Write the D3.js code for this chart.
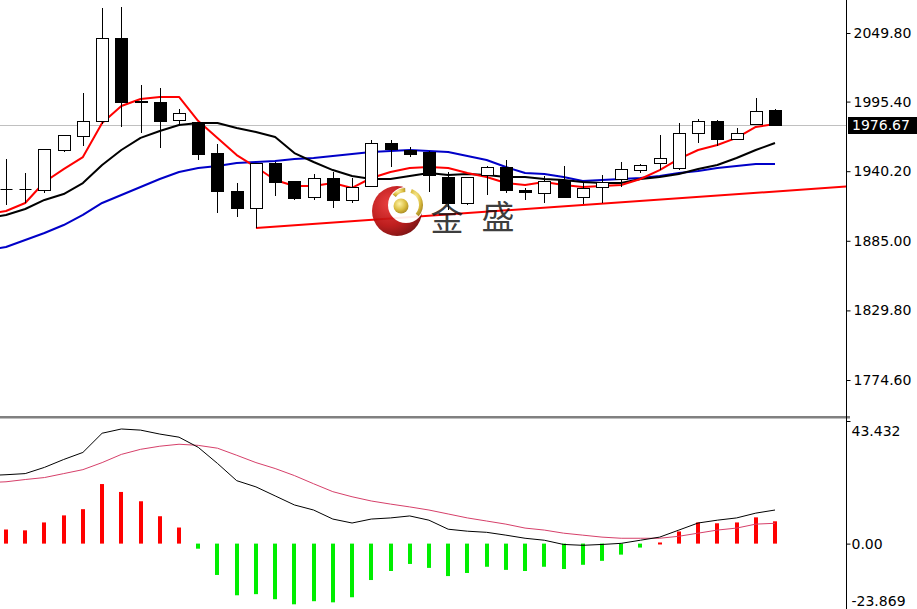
<!DOCTYPE html>
<html>
<head>
<meta charset="utf-8">
<script src="https://cdn.jsdelivr.net/npm/d3@7/dist/d3.min.js"></script>
<style>
  html, body { margin: 0; padding: 0; background: #fff; }
  svg { display: block; }
  text { font-family: "DejaVu Sans", Verdana, sans-serif; }
</style>
</head>
<body>
<svg id="chart" width="917" height="609"></svg>
<script>
// ---------------- DATA ----------------
const opens  = [1926.1,1926.1,1925.3,1957.0,1968.1,1980.0,2045.8,1995.9,1995.1,1980.8,1979.2,1954.6,1924.5,1911.0,1946.7,1932.4,1919.8,1934.8,1917.4,1928.5,1962.6,1957.0,1955.4,1935.6,1915.0,1937.2,1943.5,1925.3,1922.9,1933.2,1919.8,1927.7,1934.0,1941.1,1946.7,1942.7,1970.5,1980.0,1965.8,1977.6,1988.7];
const highs  = [1949.9,1938.8,1957.8,1968.9,2002.2,2069.6,2070.4,2008.6,2006.2,1989.5,1979.6,1961.8,1930.8,1946.7,1947.5,1932.4,1938.0,1939.6,1934.8,1965.0,1965.0,1959.4,1956.2,1939.6,1935.6,1944.3,1949.1,1926.9,1936.4,1944.3,1930.8,1937.2,1947.5,1945.9,1968.9,1978.4,1981.6,1980.8,1974.5,1998.3,1989.5];
const lows   = [1913.4,1915.0,1922.9,1955.4,1960.2,1977.6,1975.3,1970.5,1958.6,1976.0,1949.1,1907.0,1903.9,1895.2,1920.6,1917.4,1917.4,1911.0,1915.0,1927.7,1943.5,1951.4,1923.7,1909.4,1913.4,1921.3,1922.9,1917.4,1915.0,1919.8,1914.2,1915.0,1927.7,1938.8,1941.1,1941.1,1962.6,1960.2,1965.8,1977.6,1976.0];
const closes = [1926.1,1926.1,1957.8,1968.9,1980.0,2045.8,1995.1,1995.1,1980.0,1986.3,1953.8,1924.5,1911.0,1946.7,1931.6,1919.0,1934.8,1917.4,1927.7,1962.6,1957.8,1953.8,1937.2,1915.0,1935.6,1943.5,1925.3,1923.7,1932.4,1919.8,1926.9,1931.6,1941.9,1945.1,1950.7,1970.5,1980.0,1965.8,1970.5,1987.9,1976.67];

// moving averages, first value belongs to the bar just left of the visible window (index -1)
const maRed   = [1906.3,1908.6,1915.0,1931.6,1941.9,1951.4,1978.4,1991.9,1997.5,1999.1,1999.1,1980.0,1966.6,1953.0,1943.5,1933.2,1928.5,1928.5,1930.8,1926.9,1934.8,1939.6,1942.7,1943.5,1942.7,1938.8,1935.6,1930.8,1929.3,1931.6,1929.3,1927.7,1928.5,1929.3,1934.0,1941.1,1949.9,1957.0,1961.0,1966.6,1975.3,1977.6];
const maBlack = [1903.1,1905.5,1910.2,1917.4,1922.1,1930.8,1945.1,1957.0,1966.6,1972.1,1976.8,1978.4,1978.4,1974.5,1971.3,1967.3,1954.6,1947.5,1941.1,1936.4,1934.0,1934.0,1936.4,1938.8,1937.2,1938.0,1937.2,1935.6,1935.6,1934.0,1933.2,1931.6,1930.8,1930.8,1934.0,1935.6,1938.0,1941.9,1945.1,1950.7,1957.0,1962.6];
const maBlue  = [1877.7,1880.1,1885.6,1891.2,1897.5,1905.5,1915.0,1921.3,1927.7,1934.0,1939.6,1942.7,1944.3,1946.7,1947.5,1948.3,1949.9,1950.7,1952.2,1953.8,1955.4,1956.2,1957.0,1956.2,1955.4,1952.2,1949.1,1943.5,1938.8,1938.0,1935.6,1932.4,1933.2,1934.0,1934.8,1936.4,1938.8,1940.4,1942.7,1944.3,1945.9,1945.9];

// trend line: [bar index, price]
const trendLine = [[13, 1895.2], [44, 1928.4]];
const lastPrice = 1976.67;

// MACD panel
const macdHist = [5.0,4.7,7.5,10.0,12.2,21.1,18.3,15.0,9.7,5.7,-1.8,-11.1,-18.3,-17.9,-19.7,-21.5,-20.4,-20.8,-19.0,-12.9,-9.7,-7.2,-8.6,-11.5,-10.4,-8.2,-9.3,-9.7,-8.2,-9.0,-7.5,-6.1,-3.9,-1.4,0.4,4.3,7.5,7.2,7.5,9.3,7.9];
const macdDif  = [24.1,24.4,24.8,27.0,29.8,32.3,39.1,40.6,40.2,38.8,37.7,34.1,28.4,22.3,20.1,16.9,13.7,11.9,8.7,7.3,8.7,9.1,9.8,8.3,5.1,4.4,4.0,3.0,1.9,1.2,-0.3,-0.6,-0.3,0.1,1.2,2.3,4.8,7.3,8.3,9.1,10.8,11.9];
const macdDea  = [21.6,21.9,22.7,23.4,24.8,26.2,28.7,31.6,33.4,34.5,35.2,34.8,33.8,31.3,28.7,26.6,24.1,21.2,18.4,16.6,15.1,14.0,13.0,11.9,10.5,9.1,8.0,6.9,5.5,4.8,3.7,3.0,2.3,1.9,1.9,1.9,2.6,3.7,4.8,5.5,6.9,7.2];

const priceTicks = [2049.80, 1995.40, 1940.20, 1885.00, 1829.80, 1774.60];
const macdTicks  = [43.432, 0.00, -23.869];
const macdTickLabels = ["43.432", "0.00", "-23.869"];

// ---------------- LAYOUT ----------------
const W = 917, H = 609;
const plotR = 846;
const mainTop = 0, mainBot = 416;
const subTop = 419, subBot = 609;

const svg = d3.select("#chart");

const x = d3.scaleLinear().domain([0, 40]).range([6, 775]);
const y = d3.scaleLinear().domain([1774.6, 2049.8]).range([380, 33]);
const ym = d3.scaleLinear().domain([-23.869, 43.432]).range([611, 421]);

const px = i => Math.round(x(i)) + 0.5;

const defs = svg.append("defs");
defs.append("clipPath").attr("id", "clipMain").append("rect")
  .attr("x", 0).attr("y", mainTop).attr("width", plotR).attr("height", mainBot - mainTop);
defs.append("clipPath").attr("id", "clipSub").append("rect")
  .attr("x", 0).attr("y", subTop).attr("width", plotR).attr("height", subBot - subTop);

// ---------------- MAIN PANEL ----------------
const gMain = svg.append("g").attr("clip-path", "url(#clipMain)");

// current price line
gMain.append("line")
  .attr("x1", 0).attr("x2", plotR)
  .attr("y1", Math.round(y(lastPrice)) + 0.5).attr("y2", Math.round(y(lastPrice)) + 0.5)
  .attr("stroke", "#c0c0c0").attr("stroke-width", 1);

// MA lines
const maLine = d3.line().x((d, i) => x(i - 1)).y(d => y(d)).curve(d3.curveLinear);
[[maBlue, "#0000c8"], [maBlack, "#000000"], [maRed, "#ff0000"]].forEach(([arr, col]) => {
  gMain.append("path").datum(arr).attr("d", maLine)
    .attr("fill", "none").attr("stroke", col).attr("stroke-width", 2)
    .attr("stroke-linejoin", "round");
});

// trend line
gMain.append("path").datum(trendLine)
  .attr("d", d3.line().x(d => x(d[0])).y(d => y(d[1])))
  .attr("fill", "none").attr("stroke", "#ff0000").attr("stroke-width", 2);

// candles
const bars = d3.range(opens.length).map(i => ({ i, o: opens[i], h: highs[i], l: lows[i], c: closes[i] }));
const gC = gMain.append("g");
bars.forEach(b => {
  const cx = px(b.i);
  gC.append("line").attr("x1", cx).attr("x2", cx)
    .attr("y1", Math.round(y(b.h))).attr("y2", Math.round(y(b.l)))
    .attr("stroke", "#000").attr("stroke-width", 1);
  const top = Math.round(y(Math.max(b.o, b.c)));
  const bot = Math.round(y(Math.min(b.o, b.c)));
  if (bot - top < 1) {
    gC.append("line").attr("x1", cx - 6).attr("x2", cx + 6)
      .attr("y1", top + 0.5).attr("y2", top + 0.5)
      .attr("stroke", "#000").attr("stroke-width", 1);
  } else {
    gC.append("rect")
      .attr("x", cx - 6).attr("y", top + 0.5)
      .attr("width", 12).attr("height", bot - top)
      .attr("fill", b.c >= b.o ? "#ffffff" : "#000000")
      .attr("stroke", "#000").attr("stroke-width", 1);
  }
});

// watermark logo
const lg = defs.append("radialGradient").attr("id", "redG").attr("cx", "35%").attr("cy", "35%").attr("r", "75%");
lg.append("stop").attr("offset", "0%").attr("stop-color", "#e83030");
lg.append("stop").attr("offset", "60%").attr("stop-color", "#b80c0c");
lg.append("stop").attr("offset", "100%").attr("stop-color", "#6a0000");
const gg = defs.append("radialGradient").attr("id", "goldG").attr("cx", "40%").attr("cy", "35%").attr("r", "70%");
gg.append("stop").attr("offset", "0%").attr("stop-color", "#fff3a0");
gg.append("stop").attr("offset", "60%").attr("stop-color", "#d8b830");
gg.append("stop").attr("offset", "100%").attr("stop-color", "#a07d10");

const wm = svg.append("g").attr("opacity", 0.92);
wm.append("circle").attr("cx", 397).attr("cy", 211).attr("r", 25).attr("fill", "url(#redG)");
wm.append("circle").attr("cx", 406).attr("cy", 205).attr("r", 18).attr("fill", "#ffffff");
const arc = d3.arc().innerRadius(13).outerRadius(17);
wm.append("path").attr("transform", "translate(406,205)")
  .attr("d", arc({ startAngle: 0.35, endAngle: 2.3 })).attr("fill", "url(#goldG)");
wm.append("path").attr("transform", "translate(406,205)")
  .attr("d", arc({ startAngle: -0.9, endAngle: -0.05 })).attr("fill", "url(#goldG)");
wm.append("circle").attr("cx", 401).attr("cy", 206).attr("r", 7.5).attr("fill", "url(#goldG)");
wm.append("text").attr("x", 447).attr("y", 231).attr("text-anchor", "middle")
  .style("font-family", "'Noto Sans CJK SC', sans-serif").style("font-size", "33px")
  .attr("fill", "#111").attr("fill-opacity", 0.9).text("金");
wm.append("text").attr("x", 498).attr("y", 229).attr("text-anchor", "middle")
  .style("font-family", "'Noto Sans CJK SC', sans-serif").style("font-size", "33px")
  .attr("fill", "#111").attr("fill-opacity", 0.9).text("盛");

// ---------------- MACD PANEL ----------------
const gSub = svg.append("g").attr("clip-path", "url(#clipSub)");
gSub.selectAll("rect.hist").data(macdHist).enter().append("rect")
  .attr("class", "hist")
  .attr("x", (d, i) => Math.round(x(i)) - 2)
  .attr("width", 4)
  .attr("y", d => Math.min(ym(d), ym(0)))
  .attr("height", d => Math.max(Math.abs(ym(d) - ym(0)), 2))
  .attr("fill", d => d >= 0 ? "#ff0000" : "#00ee00");

const mLine = d3.line().x((d, i) => x(i - 1)).y(d => ym(d));
gSub.append("path").datum(macdDea).attr("d", mLine)
  .attr("fill", "none").attr("stroke", "#d6406a").attr("stroke-width", 1);
gSub.append("path").datum(macdDif).attr("d", mLine)
  .attr("fill", "none").attr("stroke", "#000").attr("stroke-width", 1);

// ---------------- FRAMES & AXES ----------------
svg.append("rect").attr("x", 0).attr("y", 416).attr("width", plotR + 4).attr("height", 2.5).attr("fill", "#808080");
svg.append("line").attr("x1", plotR + 0.5).attr("x2", plotR + 0.5).attr("y1", 0).attr("y2", H)
  .attr("stroke", "#000").attr("stroke-width", 1);

const axMain = d3.axisRight(y).tickValues(priceTicks).tickSize(4).tickPadding(3).tickFormat(d3.format(".2f"));
const gAx = svg.append("g").attr("transform", `translate(${plotR + 0.5},0)`).call(axMain);
gAx.select(".domain").remove();
gAx.selectAll("text").style("font-size", "14px").attr("fill", "#000").style("font-family", "'DejaVu Sans', sans-serif");
gAx.selectAll("line").attr("stroke", "#000");

const axSub = d3.axisRight(ym).tickValues(macdTicks).tickSize(4).tickPadding(1)
  .tickFormat((d, i) => macdTickLabels[i]);
const gAx2 = svg.append("g").attr("transform", `translate(${plotR + 0.5},0)`).call(axSub);
gAx2.select(".domain").remove();
gAx2.selectAll("text").style("font-size", "14px").attr("fill", "#000").style("font-family", "'DejaVu Sans', sans-serif")
  .attr("dy", (d, i) => i === 0 ? "1.05em" : (i === 2 ? "-0.42em" : "0.32em"));
gAx2.selectAll("line").attr("stroke", "#000");

// current price tag
const yp = y(lastPrice);
svg.append("rect").attr("x", plotR + 2).attr("y", Math.round(yp) - 8).attr("width", W - plotR - 2).attr("height", 17).attr("fill", "#000");
svg.append("text").attr("x", plotR + 6).attr("y", yp).attr("dy", "0.36em")
  .style("font-size", "14px").attr("fill", "#fff").text(d3.format(".2f")(lastPrice));
</script>
</body>
</html>
